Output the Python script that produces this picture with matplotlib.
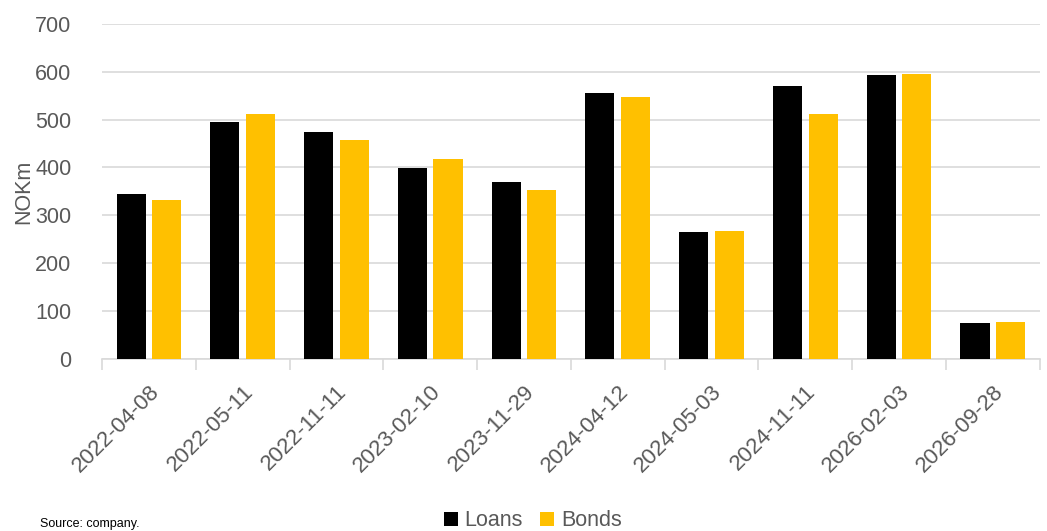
import numpy as np
import matplotlib
matplotlib.use("Agg")
import matplotlib.pyplot as plt

dates = ["2022-04-08", "2022-05-11", "2022-11-11", "2023-02-10", "2023-11-29",
         "2024-04-12", "2024-05-03", "2024-11-11", "2026-02-03", "2026-09-28"]
loans = [345, 495, 474, 399, 370, 556, 265, 570, 593, 75]
bonds = [332, 512, 457, 418, 353, 547, 267, 512, 595, 77]

plt.rcParams["font.family"] = ["Liberation Sans", "DejaVu Sans"]
grey = "#595959"
line = "#d9d9d9"

fig = plt.figure(figsize=(10.47, 5.31), dpi=100)
ax = fig.add_axes([0.0974, 0.324, 0.8956, 0.631])

x = np.arange(len(dates))
w = 0.31
ax.bar(x - 0.19, loans, w, color="black", label="Loans", zorder=3)
ax.bar(x + 0.19, bonds, w, color="#ffc000", label="Bonds", zorder=3)

ax.set_xlim(-0.5, len(dates) - 0.5)
ax.set_ylim(0, 700)
ax.set_yticks(range(0, 701, 100))
ax.grid(axis="y", color=line, linewidth=1.2, zorder=0)

ax.set_xticks(x)
ax.set_xticklabels(dates, rotation=45, ha="right", rotation_mode="anchor",
                   fontsize=16, color=grey)
ax.tick_params(axis="x", length=0, pad=16)
ax.set_xticks(np.arange(-0.5, len(dates)), minor=True)
ax.tick_params(axis="x", which="minor", length=8, color=line, width=1.2)
ax.tick_params(axis="y", length=0, labelsize=15.5, labelcolor=grey, pad=22)

for s in ["top", "right", "left"]:
    ax.spines[s].set_visible(False)
ax.spines["bottom"].set_color(line)
ax.spines["bottom"].set_linewidth(1.2)

ax.set_ylabel("NOKm", fontsize=15.5, color=grey, labelpad=1)

fig.legend(loc="center", bbox_to_anchor=(0.509, 0.019), ncol=2,
           frameon=False, fontsize=15.5, labelcolor=grey, handlelength=0.65,
           handleheight=0.65, handletextpad=0.3, columnspacing=0.8,
           borderpad=0)
fig.text(0.038, 0.0245, "Source: company.", fontsize=9, color="black",
         va="top")

fig.savefig("out.png", dpi=100)
